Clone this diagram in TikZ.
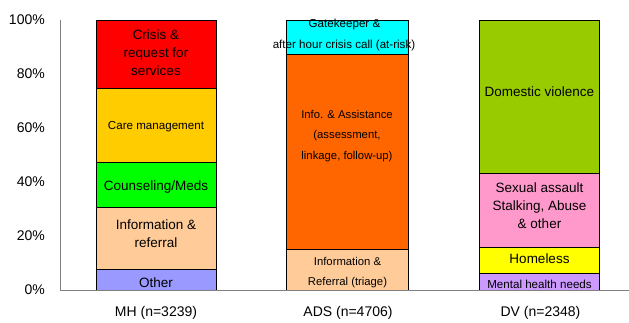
\documentclass[tikz,border=0pt]{standalone}
\usepackage{fontspec}
\setmainfont{Liberation Sans}
\definecolor{cRed}{HTML}{FF0000}
\definecolor{cGold}{HTML}{FFCC00}
\definecolor{cGreen}{HTML}{00FF00}
\definecolor{cPeach}{HTML}{FFCC99}
\definecolor{cLav}{HTML}{9999FF}
\definecolor{cCyan}{HTML}{00FFFF}
\definecolor{cOrange}{HTML}{FF6600}
\definecolor{cOlive}{HTML}{99CC00}
\definecolor{cPink}{HTML}{FF99CC}
\definecolor{cYellow}{HTML}{FFFF00}
\definecolor{cPurple}{HTML}{CC99FF}
\definecolor{cAxis}{HTML}{808080}
\begin{document}
\begin{tikzpicture}[x=1pt,y=-1pt,
  seg/.style={draw=black,line width=0.9pt},
  axisline/.style={draw=cAxis,line width=1pt},
  tick/.style={anchor=base east,inner sep=0pt,font=\fontsize{14}{16}\selectfont},
  cat/.style={anchor=base,inner sep=0pt,font=\fontsize{14}{16}\selectfont},
  lbA/.style={anchor=base,inner sep=0pt,font=\fontsize{13.5}{16}\selectfont},
  lbB/.style={anchor=base,inner sep=0pt,font=\fontsize{11.6}{14}\selectfont},
  lbC/.style={anchor=base,inner sep=0pt,font=\fontsize{11.3}{14}\selectfont}]
\useasboundingbox (0,0) rectangle (629,322);
\fill[white] (0,0) rectangle (629,322);
% MH bar
\filldraw[seg,fill=cRed]    (96,20)    rectangle (216,88.7);
\filldraw[seg,fill=cGold]   (96,88.7)  rectangle (216,162);
\filldraw[seg,fill=cGreen]  (96,162)   rectangle (216,207);
\filldraw[seg,fill=cPeach]  (96,207)   rectangle (216,269);
\filldraw[seg,fill=cLav]    (96,269)   rectangle (216,290);
% ADS bar
\filldraw[seg,fill=cCyan]   (286.7,20)   rectangle (408.3,54.7);
\filldraw[seg,fill=cOrange] (286.7,54.7) rectangle (408.3,249);
\filldraw[seg,fill=cPeach]  (286.7,249)  rectangle (408.3,290);
% DV bar
\filldraw[seg,fill=cOlive]  (479.3,20)    rectangle (599.3,173.7);
\filldraw[seg,fill=cPink]   (479.3,173.7) rectangle (599.3,247.7);
\filldraw[seg,fill=cYellow] (479.3,247.7) rectangle (599.3,273.7);
\filldraw[seg,fill=cPurple] (479.3,273.7) rectangle (599.3,290);
% axes
\draw[axisline] (60,20) -- (60,290) -- (629,290);
% tick labels
\node[tick] (t100) at (45,24.5) {100\%};
\node[tick] (t80)  at (45,78.5) {80\%};
\node[tick] (t60)  at (45,132.5) {60\%};
\node[tick] (t40)  at (45,186.5) {40\%};
\node[tick] (t20)  at (45,240.5) {20\%};
\node[tick] (t0)   at (45,294.5) {0\%};
% category labels
\node[cat] (cmh)  at (156,316) {MH (n=3239)};
\node[cat] (cads) at (348,316) {ADS (n=4706)};
\node[cat] (cdv)  at (540.5,316) {DV (n=2348)};
% MH labels
\node[lbA] (mh1a) at (156,39) {Crisis \&};
\node[lbA] (mh1b) at (156,57) {request for};
\node[lbA] (mh1c) at (156,75) {services};
\node[lbB] (mh2)  at (156,129) {Care management};
\node[lbA] (mh3)  at (156,190.5) {Counseling/Meds};
\node[lbA] (mh4a) at (156,229) {Information \&};
\node[lbA] (mh4b) at (156,247) {referral};
\node[lbA] (mh5)  at (156,287) {Other};
% ADS labels
\node[lbB] (ad1a) at (344.5,27.3) {Gatekeeper \&};
\node[lbB] (ad1b) at (344,48.3) {after hour crisis call (at-risk)};
\node[lbC] (ad2a) at (347,118) {Info. \& Assistance};
\node[lbC] (ad2b) at (347,138.7) {(assessment,};
\node[lbC] (ad2c) at (347,159) {linkage, follow-up)};
\node[lbC] (ad3a) at (347.5,265.7) {Information \&};
\node[lbC] (ad3b) at (347.5,285) {Referral (triage)};
% DV labels
\node[lbA] (dv1)  at (539.5,96) {Domestic violence};
\node[lbA] (dv2a) at (539.5,192.5) {Sexual assault};
\node[lbA] (dv2b) at (539.5,210.5) {Stalking, Abuse};
\node[lbA] (dv2c) at (539.5,228.7) {\& other};
\node[lbA] (dv3)  at (539.5,263.5) {Homeless};
\node[lbB] (dv4)  at (539.5,288) {Mental health needs};
\end{tikzpicture}
\end{document}
